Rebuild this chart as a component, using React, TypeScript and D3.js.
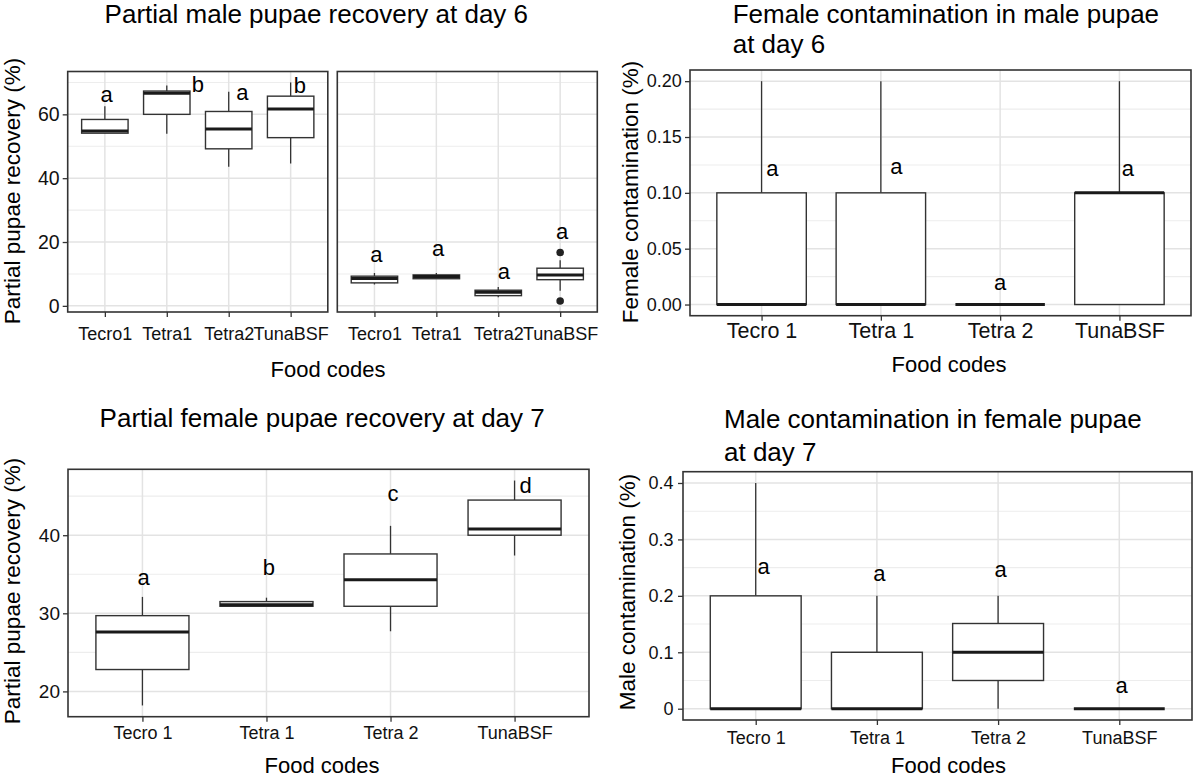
import { useEffect, useRef } from "react";
import * as d3 from "d3";

const FONT = "'Liberation Sans', Arial, Helvetica, sans-serif";
const INK = "#111111";
const LINE = "#333333";

// Food codes (the day-6 facet plot uses the short spelling)
const codesShort = ["Tecro1", "Tetra1", "Tetra2", "TunaBSF"];
const codes = ["Tecro 1", "Tetra 1", "Tetra 2", "TunaBSF"];

// Box stats per food code: [min, q1, median, q3, max]
const maleDay6A = [
  [54.0, 54.1, 54.8, 58.4, 62.5],
  [53.9, 60.0, 66.6, 67.3, 69.0],
  [43.6, 49.2, 55.4, 60.9, 67.1],
  [44.6, 52.7, 61.7, 65.7, 70.0],
];
const maleDay6B = [
  [6.7, 7.2, 8.6, 9.3, 10.3],
  [8.5, 8.5, 9.2, 9.7, 10.3],
  [2.7, 3.2, 4.3, 4.9, 5.9],
  [4.7, 8.2, 9.7, 11.8, 14.3],
];
const maleDay6BOutliers = [[], [], [], [16.7, 1.5]];
const femaleContDay6 = [
  [0, 0, 0, 0.1, 0.2],
  [0, 0, 0, 0.1, 0.2],
  [0, 0, 0, 0, 0],
  [0, 0, 0.1, 0.1, 0.2],
];
const femaleDay7 = [
  [18.2, 22.8, 27.6, 29.7, 32.1],
  [30.9, 30.9, 31.1, 31.5, 32.0],
  [27.7, 30.9, 34.3, 37.6, 41.2],
  [37.4, 40.0, 40.8, 44.5, 47.0],
];
const maleContDay7 = [
  [0, 0, 0, 0.2, 0.4],
  [0, 0, 0, 0.1, 0.2],
  [0, 0.05, 0.1, 0.151, 0.2],
  [0, 0, 0, 0, 0],
];

// Significance letters and the value they sit at
const maleDay6ALetters = ["a", "b", "a", "b"];
const maleDay6ALetterY = [63.75, 66.9, 64.6, 66.8];
const maleDay6BLetters = ["a", "a", "a", "a"];
const maleDay6BLetterY = [13.75, 15.5, 8.55, 21.05];
const femaleContDay6Letters = ["a", "a", "a", "a"];
const femaleContDay6LetterY = [0.115, 0.117, 0.013, 0.115];
const femaleDay7Letters = ["a", "b", "c", "d"];
const femaleDay7LetterY = [33.6, 34.9, 44.4, 45.45];
const maleContDay7Letters = ["a", "a", "a", "a"];
const maleContDay7LetterY = [0.238, 0.226, 0.234, 0.0275];

// Axis ticks
const recoveryTicks = [0, 20, 40, 60];
const recoveryTickLabels = ["0", "20", "40", "60"];
const recoveryMinor = [10, 30, 50, 70];
const contDay6Ticks = [0, 0.05, 0.1, 0.15, 0.2];
const contDay6TickLabels = ["0.00", "0.05", "0.10", "0.15", "0.20"];
const contDay6Minor = [0.025, 0.075, 0.125, 0.175];
const femaleTicks = [20, 30, 40];
const femaleTickLabels = ["20", "30", "40"];
const femaleMinor = [25, 35, 45];
const contDay7Ticks = [0, 0.1, 0.2, 0.3, 0.4];
const contDay7TickLabels = ["0", "0.1", "0.2", "0.3", "0.4"];
const contDay7Minor = [0.05, 0.15, 0.25, 0.35];

type Facet = {
  x0: number;
  x1: number;
  cats: string[];
  stats: number[][];
  outliers?: number[][];
  letters: string[];
  letterY: number[];
  letterDx: number[];
};

type PanelProps = {
  top: number;
  bottom: number;
  facets: Facet[];
  yTicks: number[];
  yTickLabels: string[];
  yMinor: number[];
  yFont: number;
  yPad: number;
  xFont: number;
  xPad: number;
  title: string[];
  titleX: number;
  titleY: number;
  titleGap: number;
  yTitle: string;
  yTitleX: number;
  yTitleY: number;
  xTitleX: number;
  xTitleY: number;
};

const LeftAxis = ({ scale, x, ticks, labels, font, pad }: any) => {
  const ref = useRef<SVGGElement>(null);
  useEffect(() => {
    const g = d3.select(ref.current);
    g.selectAll("*").remove();
    g.call(
      d3
        .axisLeft(scale)
        .tickValues(ticks)
        .tickFormat((_d, i) => labels[i])
        .tickSize(5)
        .tickPadding(pad)
        .tickSizeOuter(0)
    );
    g.select(".domain").remove();
    g.attr("font-family", FONT).attr("font-size", font);
    g.selectAll("line").attr("stroke", LINE).attr("stroke-width", 1.3);
    g.selectAll("text").attr("fill", INK);
  }, [scale, ticks, labels, font, pad]);
  return <g ref={ref} transform={`translate(${x},0)`} />;
};

const BottomAxis = ({ scale, y, font, pad }: any) => {
  const ref = useRef<SVGGElement>(null);
  useEffect(() => {
    const g = d3.select(ref.current);
    g.selectAll("*").remove();
    g.call(d3.axisBottom(scale).tickSize(5).tickPadding(pad).tickSizeOuter(0));
    g.select(".domain").remove();
    g.attr("font-family", FONT).attr("font-size", font);
    g.selectAll("line").attr("stroke", LINE).attr("stroke-width", 1.3);
    g.selectAll("text").attr("fill", INK);
  }, [scale, font, pad]);
  return <g ref={ref} transform={`translate(0,${y})`} />;
};

const BoxPanel = (p: PanelProps) => {
  // shared y range over facets, expanded by 5% like ggplot
  const all = p.facets.flatMap((f) => [
    ...f.stats.flat(),
    ...(f.outliers ? f.outliers.flat() : []),
  ]);
  const [lo, hi] = d3.extent(all) as [number, number];
  const pad = (hi - lo) * 0.05;
  const y = d3
    .scaleLinear()
    .domain([lo - pad, hi + pad])
    .range([p.bottom, p.top]);

  return (
    <g>
      {p.title.map((t, i) => (
        <text
          key={i}
          x={p.titleX}
          y={p.titleY + i * p.titleGap}
          fontSize={26}
          fontFamily={FONT}
          fill="#000"
        >
          {t}
        </text>
      ))}
      <text
        transform={`translate(${p.yTitleX},${p.yTitleY}) rotate(-90)`}
        textAnchor="middle"
        fontSize={22.5}
        fontFamily={FONT}
        fill="#000"
      >
        {p.yTitle}
      </text>
      <text
        x={p.xTitleX}
        y={p.xTitleY}
        textAnchor="middle"
        fontSize={22}
        fontFamily={FONT}
        fill="#000"
      >
        Food codes
      </text>

      {p.facets.map((f, fi) => {
        const x = d3.scalePoint<string>().domain(f.cats).range([f.x0, f.x1]).padding(0.6);
        const bw = x.step() * 0.75;
        return (
          <g key={fi}>
            <rect x={f.x0} y={p.top} width={f.x1 - f.x0} height={p.bottom - p.top} fill="#fff" />
            {p.yMinor.map((v) => (
              <line key={"mn" + v} x1={f.x0} x2={f.x1} y1={y(v)} y2={y(v)} stroke="#ededed" strokeWidth={1.1} />
            ))}
            {p.yTicks.map((v) => (
              <line key={"mj" + v} x1={f.x0} x2={f.x1} y1={y(v)} y2={y(v)} stroke="#e3e3e3" strokeWidth={1.5} />
            ))}
            {f.cats.map((c) => (
              <line key={"vx" + c} x1={x(c)} x2={x(c)} y1={p.top} y2={p.bottom} stroke="#e3e3e3" strokeWidth={1.5} />
            ))}

            {f.stats.map(([mn, q1, med, q3, mx], i) => {
              const cx = x(f.cats[i]) as number;
              return (
                <g key={"box" + i}>
                  <line x1={cx} x2={cx} y1={y(mx)} y2={y(q3)} stroke={LINE} strokeWidth={1.3} />
                  <line x1={cx} x2={cx} y1={y(q1)} y2={y(mn)} stroke={LINE} strokeWidth={1.3} />
                  <rect
                    x={cx - bw / 2}
                    y={y(q3)}
                    width={bw}
                    height={Math.max(y(q1) - y(q3), 0)}
                    fill="#fff"
                    stroke={LINE}
                    strokeWidth={1.4}
                  />
                  <line
                    x1={cx - bw / 2}
                    x2={cx + bw / 2}
                    y1={y(med)}
                    y2={y(med)}
                    stroke="#1a1a1a"
                    strokeWidth={3}
                  />
                  {(f.outliers ? f.outliers[i] : []).map((o, j) => (
                    <circle key={j} cx={cx} cy={y(o)} r={3.8} fill="#222" />
                  ))}
                </g>
              );
            })}

            {f.letters.map((t, i) => (
              <text
                key={"lt" + i}
                x={(x(f.cats[i]) as number) + f.letterDx[i] * x.step()}
                y={y(f.letterY[i])}
                textAnchor="middle"
                fontSize={22}
                fontFamily={FONT}
                fill="#000"
              >
                {t}
              </text>
            ))}

            <rect
              x={f.x0}
              y={p.top}
              width={f.x1 - f.x0}
              height={p.bottom - p.top}
              fill="none"
              stroke={LINE}
              strokeWidth={1.6}
            />
            <BottomAxis scale={x} y={p.bottom} font={p.xFont} pad={p.xPad} />
          </g>
        );
      })}
      <LeftAxis
        scale={y}
        x={p.facets[0].x0}
        ticks={p.yTicks}
        labels={p.yTickLabels}
        font={p.yFont}
        pad={p.yPad}
      />
    </g>
  );
};

export default function App() {
  return (
    <svg
      width={1200}
      height={780}
      style={{ position: "absolute", left: 0, top: 0, background: "#fff" }}
    >
      <rect width={1200} height={780} fill="#fff" />

      <BoxPanel
        top={71.5}
        bottom={312}
        facets={[
          {
            x0: 67.7,
            x1: 327.8,
            cats: codesShort,
            stats: maleDay6A,
            letters: maleDay6ALetters,
            letterY: maleDay6ALetterY,
            letterDx: [0.03, 0.5, 0.22, 0.15],
          },
          {
            x0: 337.3,
            x1: 597.3,
            cats: codesShort,
            stats: maleDay6B,
            outliers: maleDay6BOutliers,
            letters: maleDay6BLetters,
            letterY: maleDay6BLetterY,
            letterDx: [0.03, 0.03, 0.09, 0.03],
          },
        ]}
        yTicks={recoveryTicks}
        yTickLabels={recoveryTickLabels}
        yMinor={recoveryMinor}
        yFont={19.5}
        yPad={3}
        xFont={18}
        xPad={10}
        title={["Partial male pupae recovery at day 6"]}
        titleX={104.6}
        titleY={23.3}
        titleGap={30}
        yTitle="Partial pupae recovery (%)"
        yTitleX={20}
        yTitleY={191}
        xTitleX={328}
        xTitleY={376.7}
      />

      <BoxPanel
        top={70}
        bottom={315.7}
        facets={[
          {
            x0: 690,
            x1: 1191,
            cats: codes,
            stats: femaleContDay6,
            letters: femaleContDay6Letters,
            letterY: femaleContDay6LetterY,
            letterDx: [0.09, 0.13, 0, 0.07],
          },
        ]}
        yTicks={contDay6Ticks}
        yTickLabels={contDay6TickLabels}
        yMinor={contDay6Minor}
        yFont={18}
        yPad={3.3}
        xFont={21.5}
        xPad={2}
        title={["Female contamination in male pupae", "at day 6"]}
        titleX={732.7}
        titleY={23.3}
        titleGap={30}
        yTitle="Female contamination (%)"
        yTitleX={638}
        yTitleY={192}
        xTitleX={949}
        xTitleY={371.7}
      />

      <BoxPanel
        top={469.3}
        bottom={716.7}
        facets={[
          {
            x0: 68,
            x1: 589,
            cats: codes,
            stats: femaleDay7,
            letters: femaleDay7Letters,
            letterY: femaleDay7LetterY,
            letterDx: [0.01, 0.02, 0.02, 0.09],
          },
        ]}
        yTicks={femaleTicks}
        yTickLabels={femaleTickLabels}
        yMinor={femaleMinor}
        yFont={19}
        yPad={3}
        xFont={18}
        xPad={4.5}
        title={["Partial female pupae recovery at day 7"]}
        titleX={99.6}
        titleY={426.7}
        titleGap={30}
        yTitle="Partial pupae recovery (%)"
        yTitleX={20}
        yTitleY={591}
        xTitleX={322}
        xTitleY={772.7}
      />

      <BoxPanel
        top={471.7}
        bottom={720}
        facets={[
          {
            x0: 683,
            x1: 1192,
            cats: codes,
            stats: maleContDay7,
            letters: maleContDay7Letters,
            letterY: maleContDay7LetterY,
            letterDx: [0.066, 0.02, 0.02, 0.02],
          },
        ]}
        yTicks={contDay7Ticks}
        yTickLabels={contDay7TickLabels}
        yMinor={contDay7Minor}
        yFont={18}
        yPad={4.5}
        xFont={18}
        xPad={6.5}
        title={["Male contamination in female pupae", "at day 7"]}
        titleX={724}
        titleY={428.3}
        titleGap={32.7}
        yTitle="Male contamination (%)"
        yTitleX={635}
        yTitleY={592}
        xTitleX={948.5}
        xTitleY={773.3}
      />
    </svg>
  );
}
